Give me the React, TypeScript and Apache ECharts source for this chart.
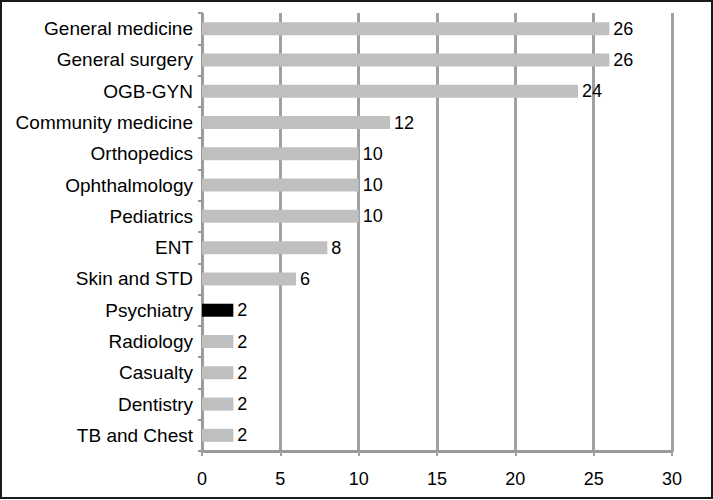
import React, { useEffect, useRef } from "react";
import * as echarts from "echarts";

const categories = [
  "General medicine",
  "General surgery",
  "OGB-GYN",
  "Community medicine",
  "Orthopedics",
  "Ophthalmology",
  "Pediatrics",
  "ENT",
  "Skin and STD",
  "Psychiatry",
  "Radiology",
  "Casualty",
  "Dentistry",
  "TB and Chest",
];
const values = [26, 26, 24, 12, 10, 10, 10, 8, 6, 2, 2, 2, 2, 2];
const highlighted = "Psychiatry";

export default function App() {
  const ref = useRef<HTMLDivElement>(null);
  useEffect(() => {
    if (!ref.current) return;
    const chart = echarts.init(ref.current, null, { renderer: "svg" });
    const font = "Liberation Sans, Arial, sans-serif";
    chart.setOption({
      animation: false,
      backgroundColor: "#ffffff",
      grid: { left: 202, right: 41, top: 13, bottom: 49, containLabel: false },
      graphic: [
        {
          type: "rect",
          shape: { x: 1, y: 1, width: 711, height: 497 },
          style: { fill: "none", stroke: "#1a1a1a", lineWidth: 2 },
          silent: true,
          z: 100,
        },
      ],
      xAxis: {
        type: "value",
        min: 0,
        max: 30,
        interval: 5,
        axisLine: { show: true, lineStyle: { color: "#9a9a9a", width: 3 } },
        axisTick: { show: true, length: 5, lineStyle: { color: "#a0a0a0", width: 2 } },
        axisLabel: { color: "#000", fontSize: 18, fontFamily: font, margin: 19 },
        splitLine: { show: true, lineStyle: { color: "#a0a0a0", width: 3 } },
      },
      yAxis: {
        type: "category",
        data: categories,
        inverse: true,
        axisLine: { show: true, lineStyle: { color: "#9a9a9a", width: 2 } },
        axisTick: { show: true, length: 4, lineStyle: { color: "#9a9a9a", width: 2 } },
        axisLabel: { color: "#000", fontSize: 19, fontFamily: font, margin: 9 },
        splitLine: { show: false },
      },
      series: [
        {
          type: "bar",
          barWidth: 13,
          data: values.map((v, i) => ({
            value: v,
            itemStyle: { color: categories[i] === highlighted ? "#000000" : "#bfbfbf" },
          })),
          label: {
            show: true,
            position: "right",
            distance: 4,
            color: "#000",
            fontSize: 18,
            fontFamily: font,
          },
        },
      ],
    });
    return () => chart.dispose();
  }, []);
  return (
    <div
      ref={ref}
      style={{ position: "fixed", left: 0, top: 0, width: 713, height: 500 }}
    />
  );
}
